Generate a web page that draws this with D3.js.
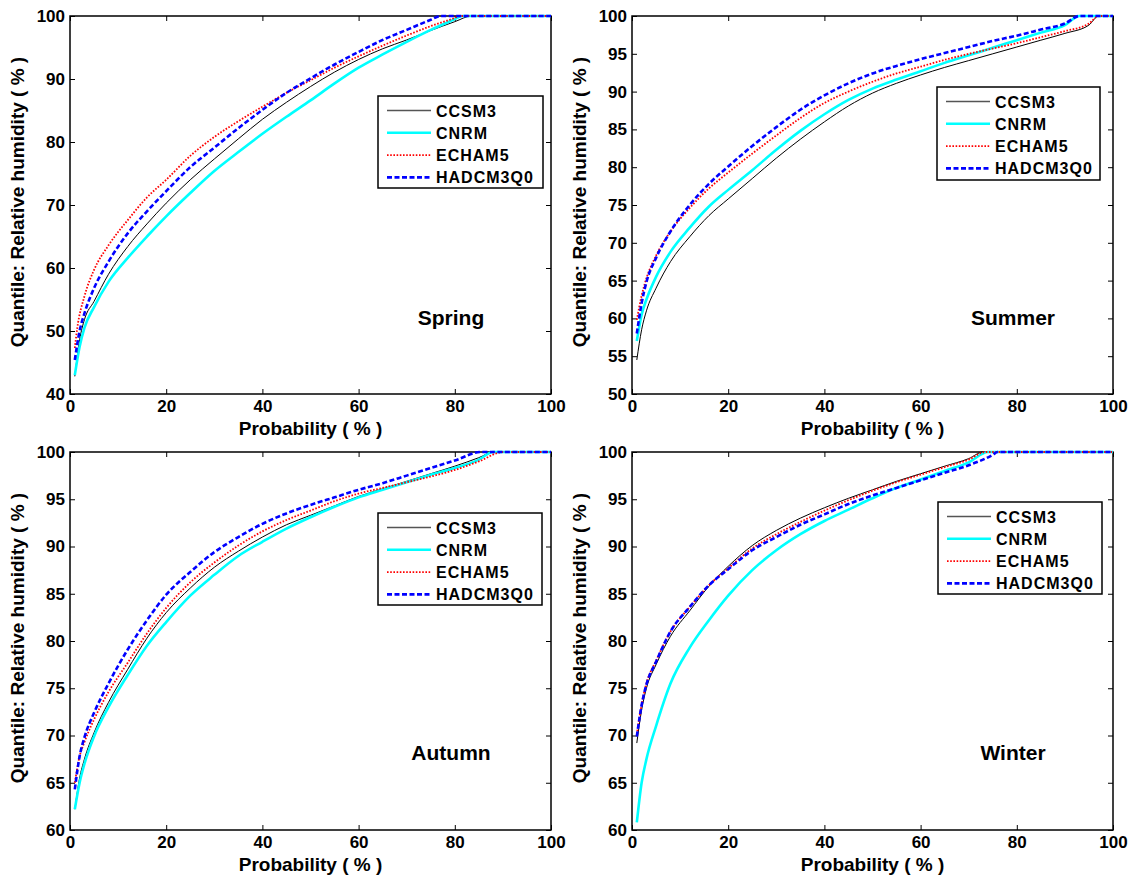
<!DOCTYPE html>
<html><head><meta charset="utf-8">
<script src="https://cdn.jsdelivr.net/npm/d3@7"></script>
<style>
body{margin:0;background:#fff}
svg{display:block}
text{font-family:"Liberation Sans",Arial,Helvetica,sans-serif;font-weight:bold;fill:#000}
</style>
</head><body>
<svg id="chart" width="1132" height="880"></svg>
<script>
// ---------- data ----------
const seriesNames = ["CCSM3", "CNRM", "ECHAM5", "HADCM3Q0"];
const seasons = ["Spring", "Summer", "Autumn", "Winter"];
const probTicks = [0, 20, 40, 60, 80, 100];
const springYTicks = [40, 50, 60, 70, 80, 90, 100];
const summerYTicks = [50, 55, 60, 65, 70, 75, 80, 85, 90, 95, 100];
const autumnYTicks = [60, 65, 70, 75, 80, 85, 90, 95, 100];
const winterYTicks = [60, 65, 70, 75, 80, 85, 90, 95, 100];

// [probability %, quantile of relative humidity %]
const springCCSM3 = [[1,42.8],[2,48.6],[3,51.8],[5,54.7],[8,59],[12,63.4],[16,67],[20,70.3],[25,74],[30,77.3],[35,80.5],[40,83.6],[45,86.3],[50,88.8],[55,91.1],[60,93.1],[65,94.8],[70,96.2],[75,97.7],[80,99.1],[83.5,100],[100,100]];
const springCNRM = [[1,43],[2,47.5],[3,50.5],[5,53.8],[8,57.8],[12,61.6],[16,65],[20,68.2],[25,71.9],[30,75.4],[35,78.4],[40,81.3],[45,84],[50,86.6],[55,89.3],[60,91.8],[65,93.9],[70,95.9],[75,97.8],[80,99.5],[81.5,100],[100,100]];
const springECHAM5 = [[1,47.3],[1.5,50.4],[3,55.5],[5,59.7],[8,63.6],[12,67.6],[16,71.2],[20,74],[25,77.8],[30,80.8],[35,83.3],[40,85.6],[45,87.8],[50,89.8],[55,91.8],[60,93.6],[65,95.3],[70,96.9],[75,98.4],[80,99.7],[81,100],[100,100]];
const springHADCM3Q0 = [[1,45.4],[2,50],[3,52.8],[5,56.8],[8,61],[12,65.5],[16,69],[20,72.2],[25,76],[30,79.1],[35,82.2],[40,85.1],[45,87.8],[50,90.1],[55,92.3],[60,94.3],[65,96.2],[70,97.8],[75,99.4],[77,100],[100,100]];

const summerCCSM3 = [[1,54.5],[2,58.5],[3,61],[5,64],[8,67.5],[12,70.8],[16,73.6],[20,75.8],[25,78.5],[30,81.2],[35,83.7],[40,86],[45,88.1],[50,89.8],[55,91.1],[60,92.2],[65,93.2],[70,94.1],[75,95],[80,95.9],[85,96.8],[90,97.7],[95,98.8],[97,100],[100,100]];
const summerCNRM = [[1,57],[2,60.5],[3,62.5],[5,65.5],[8,68.8],[12,72],[16,74.8],[20,77],[25,79.6],[30,82.3],[35,84.8],[40,87],[45,88.9],[50,90.4],[55,91.6],[60,92.7],[65,93.8],[70,94.8],[75,95.8],[80,96.8],[85,97.8],[90,98.8],[93,100],[100,100]];
const summerECHAM5 = [[1,59.8],[2,63],[3,65.3],[5,68.3],[8,71.5],[12,74.6],[16,77.2],[20,79.3],[25,81.8],[30,84.2],[35,86.5],[40,88.5],[45,90],[50,91.3],[55,92.4],[60,93.3],[65,94.2],[70,95],[75,95.7],[80,96.4],[85,97.2],[90,98],[95,99],[97,100],[100,100]];
const summerHADCM3Q0 = [[1,58],[2,62],[3,64.8],[5,68],[8,71.5],[12,75],[16,77.8],[20,80.1],[25,82.8],[30,85.3],[35,87.6],[40,89.5],[45,91.1],[50,92.4],[55,93.4],[60,94.3],[65,95.1],[70,95.9],[75,96.7],[80,97.4],[85,98.2],[90,99],[93,100],[100,100]];

const autumnCCSM3 = [[1,62.2],[2,65.5],[3,67.5],[5,70.3],[8,73.5],[12,77],[16,80.3],[20,83],[25,85.6],[30,87.8],[35,89.5],[40,91],[45,92.3],[50,93.3],[55,94.3],[60,95.3],[65,96.1],[70,96.9],[75,97.7],[80,98.5],[85,99.4],[88,100],[100,100]];
const autumnCNRM = [[1,62.2],[2,65],[3,67],[5,69.9],[8,73],[12,76.4],[16,79.5],[20,82],[25,84.8],[30,87],[35,89],[40,90.5],[45,91.9],[50,93.1],[55,94.2],[60,95.2],[65,96],[70,96.8],[75,97.6],[80,98.3],[85,99.2],[88,100],[100,100]];
const autumnECHAM5 = [[1,65],[2,67.8],[3,69.3],[5,71.7],[8,74.6],[12,77.7],[16,80.8],[20,83.5],[25,86.2],[30,88.3],[35,90.1],[40,91.6],[45,92.8],[50,93.8],[55,94.8],[60,95.6],[65,96.2],[70,96.8],[75,97.4],[80,98.1],[85,99],[90,100],[100,100]];
const autumnHADCM3Q0 = [[1,64.3],[2,67.8],[3,69.8],[5,72.4],[8,75.5],[12,79.1],[16,82.2],[20,84.9],[25,87.3],[30,89.4],[35,91],[40,92.4],[45,93.5],[50,94.4],[55,95.2],[60,96],[65,96.7],[70,97.5],[75,98.3],[80,99.1],[85.5,100],[100,100]];

const winterCCSM3 = [[1,69.2],[2,72.7],[3,75],[5,77.5],[8,80.5],[12,83.2],[16,85.8],[20,87.9],[25,90.1],[30,91.7],[35,93],[40,94.1],[45,95.1],[50,96],[55,96.9],[60,97.7],[65,98.5],[70,99.3],[73,100],[100,100]];
const winterCNRM = [[1,60.8],[2,65],[3,67.5],[5,71],[8,75.5],[12,79.3],[16,82.2],[20,84.8],[25,87.5],[30,89.6],[35,91.3],[40,92.7],[45,93.9],[50,95.1],[55,96.2],[60,97.1],[65,98],[70,98.9],[74,100],[100,100]];
const winterECHAM5 = [[1,70.1],[2,73.3],[3,75.5],[5,77.9],[8,81],[12,83.6],[16,85.9],[20,87.7],[25,89.8],[30,91.3],[35,92.6],[40,93.8],[45,94.9],[50,95.9],[55,96.8],[60,97.6],[65,98.4],[70,99.2],[73.5,100],[100,100]];
const winterHADCM3Q0 = [[1,69.9],[2,73.2],[3,75.4],[5,77.8],[8,81],[12,83.6],[16,85.9],[20,87.6],[25,89.6],[30,91],[35,92.3],[40,93.4],[45,94.5],[50,95.4],[55,96.2],[60,97],[65,97.8],[70,98.6],[75,99.7],[76,100],[100,100]];

// ---------- layout / styles ----------
const styles = [
  {stroke:"#000000", width:1,   dash:null},
  {stroke:"#00FFFF", width:2.6, dash:null},
  {stroke:"#FF0000", width:1.8, dash:"1.6,1.6"},
  {stroke:"#0000FF", width:2.6, dash:"5,2.5"}
];

const panels = [
  {season:seasons[0], yTicks:springYTicks, data:[springCCSM3,springCNRM,springECHAM5,springHADCM3Q0],
   box:{l:70,r:551,t:16,b:394}, legend:{x:378,y:96,w:165,h:92}, label:{x:451,y:318}},
  {season:seasons[1], yTicks:summerYTicks, data:[summerCCSM3,summerCNRM,summerECHAM5,summerHADCM3Q0],
   box:{l:632,r:1113,t:16,b:394}, legend:{x:937,y:87,w:163,h:93}, label:{x:1013,y:318}},
  {season:seasons[2], yTicks:autumnYTicks, data:[autumnCCSM3,autumnCNRM,autumnECHAM5,autumnHADCM3Q0],
   box:{l:70,r:551,t:452,b:830}, legend:{x:378,y:513,w:164,h:92}, label:{x:451,y:753}},
  {season:seasons[3], yTicks:winterYTicks, data:[winterCCSM3,winterCNRM,winterECHAM5,winterHADCM3Q0],
   box:{l:632,r:1113,t:452,b:830}, legend:{x:938,y:502,w:164,h:92}, label:{x:1013,y:753}}
];

const svg = d3.select("#chart");

panels.forEach(p => {
  const b = p.box;
  const x = d3.scaleLinear().domain([0,100]).range([b.l,b.r]);
  const y = d3.scaleLinear().domain([p.yTicks[0],100]).range([b.b,b.t]);
  const g = svg.append("g");

  // frame
  g.append("rect").attr("x",b.l).attr("y",b.t).attr("width",b.r-b.l).attr("height",b.b-b.t)
    .attr("fill","#fff").attr("stroke","#000").attr("stroke-width",1.5);

  const styleAxis = (sel) => {
    sel.select(".domain").remove();
    sel.selectAll(".tick line").attr("stroke","#000").attr("stroke-width",1);
    sel.selectAll(".tick text").style("font-size","17px").attr("fill","#000");
  };

  g.append("g").attr("transform",`translate(0,${b.b})`)
    .call(d3.axisBottom(x).tickValues(probTicks).tickSizeInner(-5).tickSizeOuter(0).tickPadding(6))
    .call(styleAxis);
  g.append("g").attr("transform",`translate(0,${b.t})`)
    .call(d3.axisTop(x).tickValues(probTicks).tickSizeInner(-5).tickSizeOuter(0).tickFormat(""))
    .call(styleAxis);
  g.append("g").attr("transform",`translate(${b.l},0)`)
    .call(d3.axisLeft(y).tickValues(p.yTicks).tickSizeInner(-5).tickSizeOuter(0).tickPadding(5))
    .call(styleAxis);
  g.append("g").attr("transform",`translate(${b.r},0)`)
    .call(d3.axisRight(y).tickValues(p.yTicks).tickSizeInner(-5).tickSizeOuter(0).tickFormat(""))
    .call(styleAxis);

  // axis titles
  g.append("text").attr("x",(b.l+b.r)/2).attr("y",b.b+41).attr("text-anchor","middle")
    .style("font-size","19px").text("Probability ( % )");
  g.append("text").attr("transform",`translate(${b.l-46},${(b.t+b.b)/2-3}) rotate(-90)`)
    .attr("text-anchor","middle").style("font-size","19px").text("Quantile: Relative humidity ( % )");

  // curves
  const line = d3.line().x(d=>x(d[0])).y(d=>y(d[1])).curve(d3.curveMonotoneX);
  p.data.forEach((ser,i) => {
    const s = styles[i];
    g.append("path").datum(ser).attr("d",line).attr("fill","none")
      .attr("stroke",s.stroke).attr("stroke-width",s.width)
      .attr("stroke-dasharray",s.dash).attr("stroke-linejoin","round");
  });

  // season label
  g.append("text").attr("x",p.label.x).attr("y",p.label.y+7).attr("text-anchor","middle")
    .style("font-size","21px").text(p.season);

  // legend
  const L = p.legend;
  const lg = g.append("g");
  lg.append("rect").attr("x",L.x).attr("y",L.y).attr("width",L.w).attr("height",L.h)
    .attr("fill","#fff").attr("stroke","#000").attr("stroke-width",1.5);
  seriesNames.forEach((n,i) => {
    const s = styles[i];
    const yy = L.y + 14.5 + i*22.3;
    lg.append("line").attr("x1",L.x+9).attr("x2",L.x+53).attr("y1",yy).attr("y2",yy)
      .attr("stroke", i===0 ? "#555" : s.stroke).attr("stroke-width", i===0 ? 1.6 : s.width)
      .attr("stroke-dasharray",s.dash);
    lg.append("text").attr("x",L.x+58).attr("y",yy+6).style("font-size","16px")
      .style("letter-spacing","1px").text(n);
  });
});
</script>
</body></html>
